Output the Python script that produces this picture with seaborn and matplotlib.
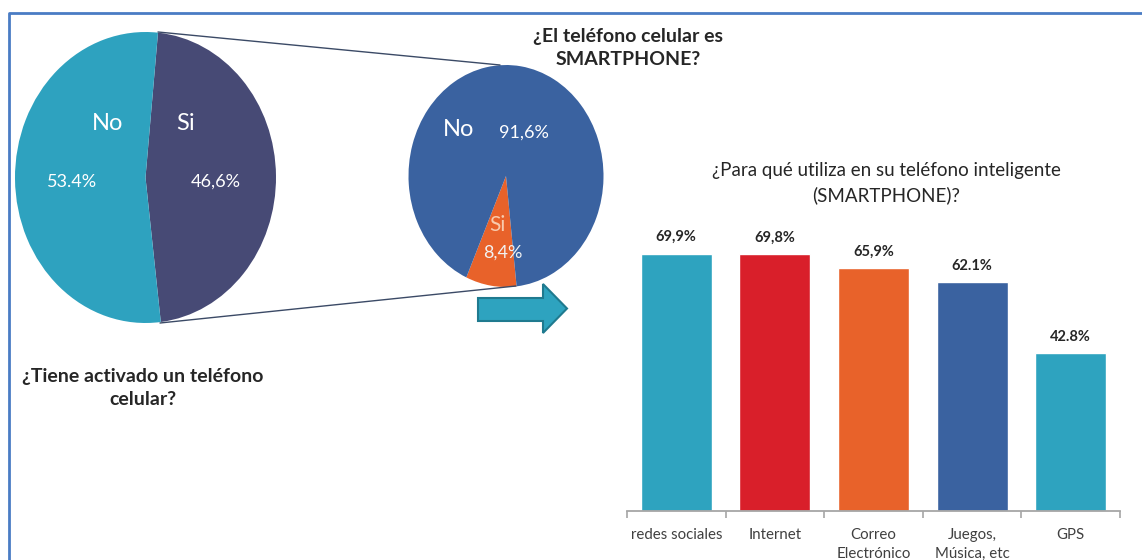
import matplotlib.pyplot as plt
import matplotlib.patches as mpatches
import seaborn as sns

# Data
cel_labels = ['Si', 'No']
cel_values = [46.6, 53.4]
cel_text = ['46,6%', '53.4%']

smart_labels = ['Si', 'No']
smart_values = [8.4, 91.6]
smart_text = ['8,4%', '91,6%']

uso_cats = ['redes sociales', 'Internet', 'Correo\nElectrónico', 'Juegos,\nMúsica, etc', 'GPS']
uso_values = [69.9, 69.8, 65.9, 62.1, 42.8]
uso_text = ['69,9%', '69,8%', '65,9%', '62.1%', '42.8%']
uso_colors = ['#2EA3BF', '#D91F2A', '#E8622A', '#3A62A0', '#2EA3BF']

W, H = 1142, 560

sns.set_theme(style='white')
plt.rcParams['font.family'] = ['Lato', 'DejaVu Sans']

fig = plt.figure(figsize=(W / 100, H / 100), dpi=100)


def px_axes(x0, y0, w, h, **kw):
    return fig.add_axes([x0 / W, 1 - (y0 + h) / H, w / W, h / H], **kw)


# Left pie (elliptical, stretched)
ax1 = px_axes(15, 32, 261, 291)
ax1.pie(cel_values, colors=['#474A75', '#2EA2BF'], startangle=84.5, counterclock=False,
        wedgeprops=dict(linewidth=0))
ax1.set_aspect('auto')
ax1.set_xlim(-1, 1)
ax1.set_ylim(-1, 1)
ax1.axis('off')

# Middle pie
ax2 = px_axes(408.5, 65, 195, 222)
ax2.pie(smart_values, colors=['#E8622A', '#3A62A0'], startangle=-114, counterclock=True,
        wedgeprops=dict(linewidth=0))
ax2.set_aspect('auto')
ax2.set_xlim(-1, 1)
ax2.set_ylim(-1, 1)
ax2.axis('off')

# Bar chart
ax3 = px_axes(627, 216.6, 493, 294.4)
sns.barplot(x=uso_cats, y=uso_values, hue=uso_cats, palette=uso_colors, legend=False,
            width=0.72, saturation=1, ax=ax3)
ax3.set_ylim(0, 80)
ax3.set_xlim(-0.5, 4.5)
for s in ['top', 'right', 'left']:
    ax3.spines[s].set_visible(False)
ax3.spines['bottom'].set_color('#A6A6A6')
ax3.spines['bottom'].set_linewidth(1.3)
ax3.set_yticks([])
ax3.set_xticks([-0.5, 0.5, 1.5, 2.5, 3.5, 4.5], minor=True)
ax3.tick_params(axis='x', which='minor', length=5, width=1.2, color='#A6A6A6', bottom=True)
ax3.tick_params(axis='x', which='major', length=0, pad=12.5, labelsize=10.8, labelcolor='#404040')
plt.setp(ax3.get_xticklabels(), linespacing=1.45)
bars = sorted([p for p in ax3.patches if p.get_height() > 0], key=lambda p: p.get_x())
for p, t in zip(bars, uso_text):
    ax3.annotate(t, (p.get_x() + p.get_width() / 2, p.get_height()), xytext=(0, 7),
                 textcoords='offset points', ha='center', va='bottom',
                 fontsize=10.5, fontweight='bold', color='#262626')

# Overlay in pixel coordinates for annotations
ov = fig.add_axes([0, 0, 1, 1], facecolor='none')
ov.set_xlim(0, W)
ov.set_ylim(H, 0)
ov.axis('off')

# frame
ov.plot([8.5, 8.5, W], [H, 13, 13], color='#4A7CC4', lw=2, solid_capstyle='butt')

# connector lines
ov.plot([158, 500], [32, 65], color='#3B4A66', lw=1)
ov.plot([160, 516], [323, 286], color='#3B4A66', lw=1)

# arrow
arrow = mpatches.Polygon([(478, 298), (543, 298), (543, 284), (567, 308.5), (543, 333),
                          (543, 321), (478, 321)], closed=True,
                         facecolor='#2EA3BF', edgecolor='#1F7A8F', lw=1.5)
ov.add_patch(arrow)

# left pie labels
ov.text(108, 124, cel_labels[1], color='white', fontsize=17, ha='center', va='center')
ov.text(186, 124, cel_labels[0], color='white', fontsize=17, ha='center', va='center')
ov.text(72, 182, cel_text[1], color='white', fontsize=13, ha='center', va='center')
ov.text(216, 182, cel_text[0], color='white', fontsize=13, ha='center', va='center')

# middle pie labels
ov.text(459, 130, smart_labels[1], color='white', fontsize=17, ha='center', va='center')
ov.text(524, 133, smart_text[1], color='white', fontsize=13, ha='center', va='center')
ov.text(497, 225, smart_labels[0], color='#F8CBAD', fontsize=15, ha='center', va='center')
ov.text(503, 253, smart_text[0], color='#F2F2F2', fontsize=13, ha='center', va='center')

# titles
ov.text(628, 48, '¿El teléfono celular es\nSMARTPHONE?', fontsize=14, fontweight='bold',
        ha='center', va='center', color='#262626', linespacing=1.45)
ov.text(143, 388, '¿Tiene activado un teléfono\ncelular?', fontsize=14, fontweight='bold',
        ha='center', va='center', color='#262626', linespacing=1.45)
ov.text(886, 183, '¿Para qué utiliza en su teléfono inteligente\n(SMARTPHONE)?', fontsize=13.5,
        ha='center', va='center', color='#262626', linespacing=1.45)

fig.savefig('out.png', dpi=100)
